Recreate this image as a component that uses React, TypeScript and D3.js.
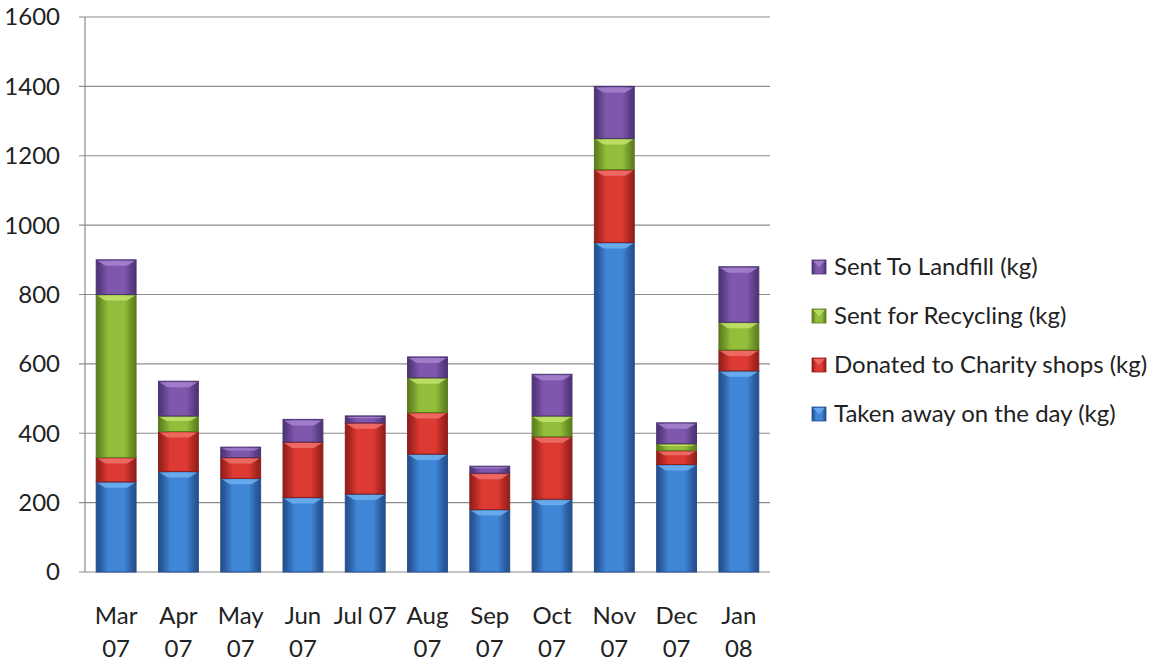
import React from "react";
import * as d3 from "d3";

const categories = ["Mar\n07", "Apr\n07", "May\n07", "Jun\n07", "Jul 07", "Aug\n07", "Sep\n07", "Oct\n07", "Nov\n07", "Dec\n07", "Jan\n08"];
const takenAway = [260, 290, 270, 215, 225, 340, 180, 210, 950, 310, 580];
const donated = [70, 115, 60, 160, 205, 120, 105, 180, 210, 40, 60];
const recycling = [470, 45, 0, 0, 0, 100, 0, 60, 90, 20, 80];
const landfill = [100, 100, 30, 65, 20, 60, 20, 120, 150, 60, 160];
const yTicks = [0, 200, 400, 600, 800, 1000, 1200, 1400, 1600];

const seriesNames = [
  "Taken away on the day (kg)",
  "Donated to Charity shops (kg)",
  "Sent for Recycling (kg)",
  "Sent To Landfill (kg)",
];
const seriesColors = [
  { mid: "#3f86d6", edge: "#2a5c9f", top: "#6fb0f0", dark: "#244f8a" },
  { mid: "#dc3a33", edge: "#a8241f", top: "#f0716a", dark: "#8e1f1b" },
  { mid: "#93be3c", edge: "#6a8e25", top: "#c2e36a", dark: "#5a7a1e" },
  { mid: "#7f58ae", edge: "#5a3c85", top: "#a484d0", dark: "#4c3272" },
];

const W = 1158;
const H = 661;
const left = 85;
const right = 770;
const top = 17;
const bottom = 572;
const font = "Lato, 'Open Sans', sans-serif";
const fs = 24;

export default function App() {
  const x = d3.scaleBand<number>().domain(d3.range(categories.length)).range([left, right]).paddingInner(0.36).paddingOuter(0.18);
  const y = d3.scaleLinear().domain([0, 1600]).range([bottom, top]);
  const table = categories.map((c, i) => ({ i, s0: takenAway[i], s1: donated[i], s2: recycling[i], s3: landfill[i] }));
  const stacked = d3.stack<any>().keys(["s0", "s1", "s2", "s3"])(table);
  const bw = x.bandwidth();

  return (
    <svg width={W} height={H} style={{ position: "absolute", left: 0, top: 0, background: "#fff" }}>
      <defs>
        {seriesColors.map((c, k) => (
          <linearGradient key={k} id={`g${k}`} x1="0" x2="1" y1="0" y2="0">
            <stop offset="0" stopColor={c.dark} />
            <stop offset="0.1" stopColor={c.edge} />
            <stop offset="0.3" stopColor={c.mid} />
            <stop offset="0.7" stopColor={c.mid} />
            <stop offset="0.9" stopColor={c.edge} />
            <stop offset="1" stopColor={c.dark} />
          </linearGradient>
        ))}
      </defs>
      {yTicks.map((t) => (
        <g key={t}>
          <line x1={left - 6} x2={right} y1={y(t)} y2={y(t)} stroke="#8c8c8c" strokeWidth={1.2} />
          <text x={60} y={y(t)} dy="0.35em" textAnchor="end" fontSize={fs} fontFamily={font} fill="#222">{t}</text>
        </g>
      ))}
      <line x1={left} x2={left} y1={top} y2={bottom} stroke="#8c8c8c" strokeWidth={1.2} />
      {stacked.map((layer, k) => (
        <g key={k}>
          {layer.map((d, i) => {
            const y0 = y(d[0]);
            const y1 = y(d[1]);
            const h = y0 - y1;
            if (h <= 0.5) return null;
            const x0 = x(i)!;
            const bev = Math.min(6, h / 3);
            return (
              <g key={i}>
                <rect x={x0} y={y1} width={bw} height={h} fill={`url(#g${k})`} stroke={seriesColors[k].dark} strokeWidth={1} />
                <polygon
                  points={`${x0 + 1},${y1 + 1} ${x0 + bw - 1},${y1 + 1} ${x0 + bw - bev - 3},${y1 + bev} ${x0 + bev + 3},${y1 + bev}`}
                  fill={seriesColors[k].top}
                  opacity={0.85}
                />
              </g>
            );
          })}
        </g>
      ))}
      {categories.map((c, i) => {
        const lines = c.split("\n");
        const cx = x(i)! + bw / 2;
        return (
          <text key={i} x={cx} y={624} textAnchor="middle" fontSize={fs} fontFamily={font} fill="#222">
            {lines.map((l, j) => (
              <tspan key={j} x={cx} dy={j === 0 ? 0 : 33}>{l}</tspan>
            ))}
          </text>
        );
      })}
      {[3, 2, 1, 0].map((k, r) => {
        const ly = 267 + r * 49;
        return (
          <g key={k}>
            <rect x={812} y={ly - 7} width={14} height={14} fill={`url(#g${k})`} stroke={seriesColors[k].dark} strokeWidth={0.8} />
            <polygon points={`${813},${ly - 6} ${825},${ly - 6} ${819},${ly}`} fill={seriesColors[k].top} opacity={0.8} />
            <text x={834} y={ly} dy="0.35em" fontSize={fs} fontFamily={font} fill="#222">{seriesNames[k]}</text>
          </g>
        );
      })}
    </svg>
  );
}
